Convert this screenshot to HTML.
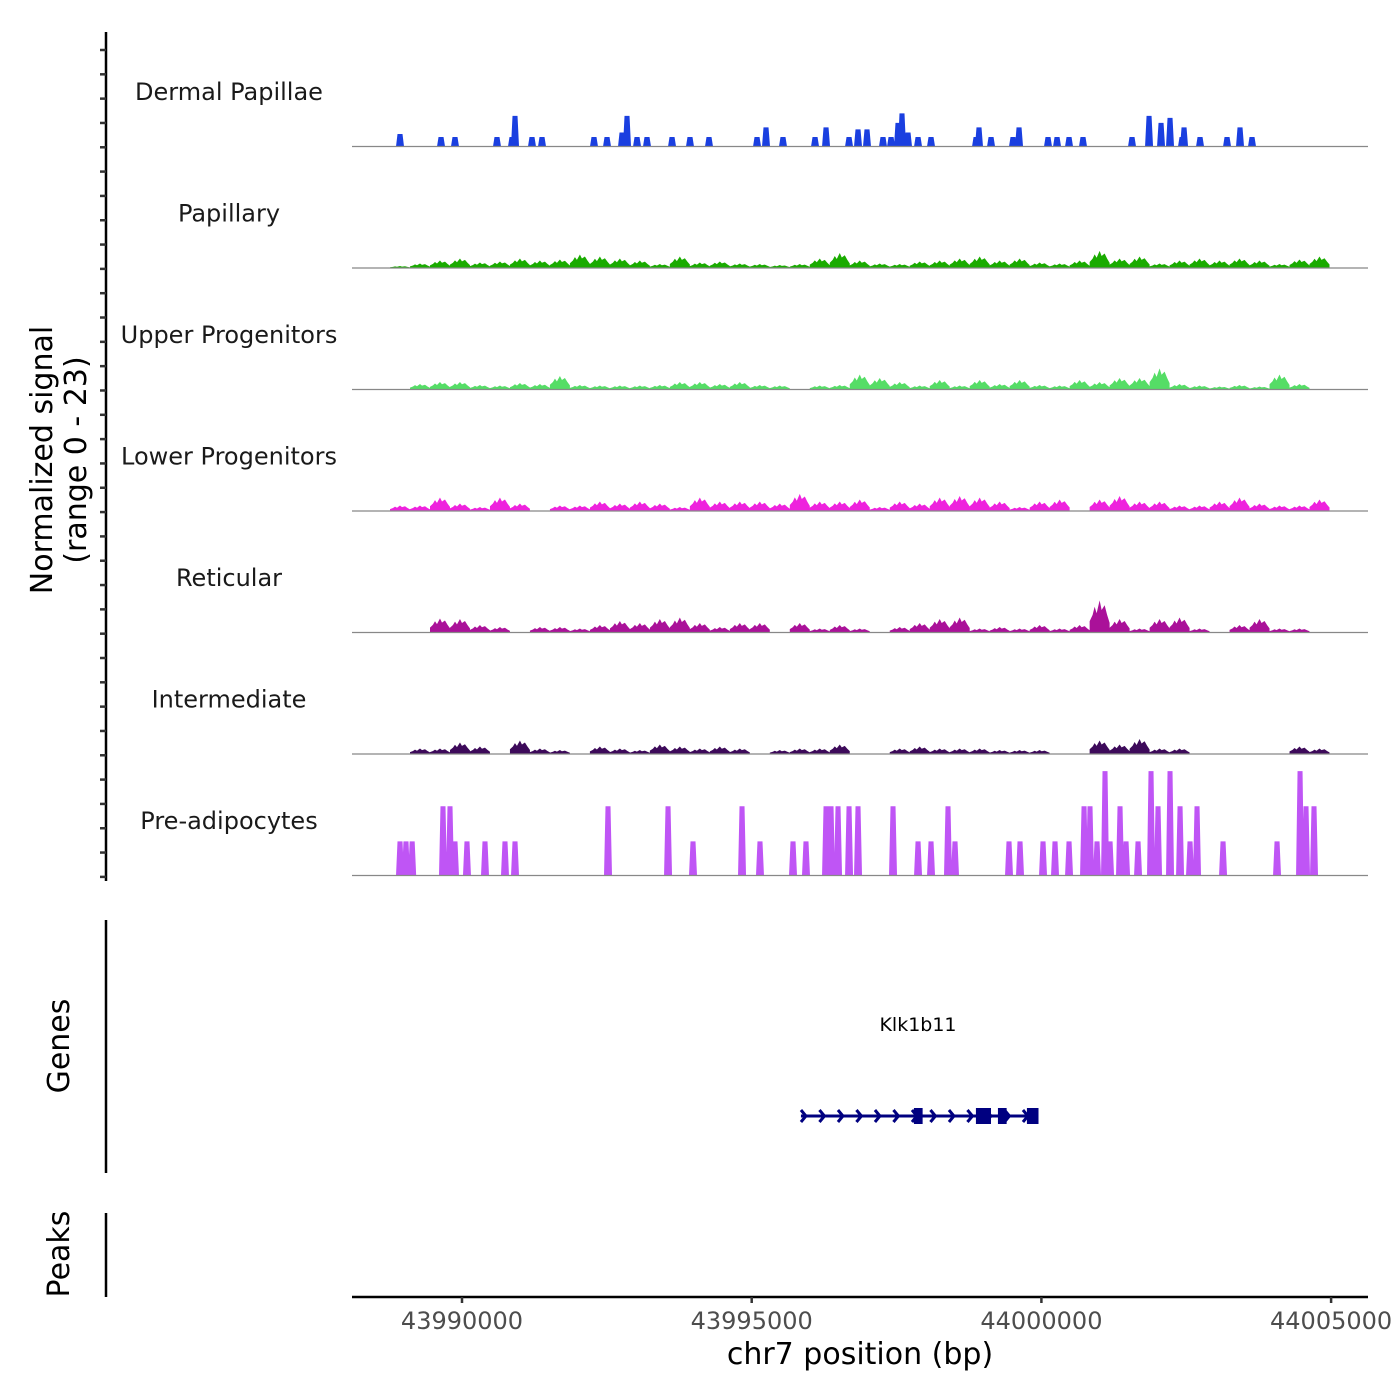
<!DOCTYPE html>
<html><head><meta charset="utf-8">
<style>
html,body{margin:0;padding:0;background:#fff;}
svg{display:block;font-family:"DejaVu Sans","Liberation Sans",sans-serif;}
</style></head>
<body>
<svg id="chart" width="1400" height="1400" viewBox="0 0 1400 1400" xmlns="http://www.w3.org/2000/svg">
<g id="leftaxis"></g>
<text transform="translate(52,460) rotate(-90)" text-anchor="middle" font-size="30" fill="#000">Normalized signal</text>
<text transform="translate(86,460) rotate(-90)" text-anchor="middle" font-size="30" fill="#000">(range 0 - 23)</text>
<g id="tracks"></g>
<line x1="106" y1="920" x2="106" y2="1173" stroke="#000" stroke-width="2.5"/>
<text transform="translate(69,1046) rotate(-90)" text-anchor="middle" font-size="30">Genes</text>
<g id="gene"></g>
<line x1="106" y1="1213" x2="106" y2="1297" stroke="#000" stroke-width="2.5"/>
<text transform="translate(69,1254) rotate(-90)" text-anchor="middle" font-size="30">Peaks</text>
<g id="xaxis"></g>
<text x="860" y="1364" text-anchor="middle" font-size="30">chr7 position (bp)</text>
</svg>
<script>
const NS="http://www.w3.org/2000/svg";
const trackNames=["Dermal Papillae","Papillary","Upper Progenitors","Lower Progenitors","Reticular","Intermediate","Pre-adipocytes"];
const trackColors=["#1a3fe0","#1aab00","#55dd66","#ee22dd","#aa1199","#3d0a5a","#bf55f5"];
const xTicks=[43990000,43995000,44000000,44005000];
const xTickLabels=["43990000","43995000","44000000","44005000"];
const binStart=43988930, binSize=345;
const papillary=[0.4,0.9,1.5,1.9,1.1,1.3,1.9,1.5,1.7,2.7,2.3,1.9,1.5,0.8,2.3,1.1,1.3,0.9,0.8,0.6,0.8,1.9,3.0,1.5,0.9,0.8,1.3,1.5,1.9,2.3,1.5,1.9,1.1,0.9,1.5,3.4,1.9,2.3,0.9,1.5,1.9,1.5,1.9,1.5,0.8,1.7,2.3];
const upperProg=[0,1.1,1.5,1.5,0.9,0.8,1.3,1.1,2.7,0.9,0.8,0.8,0.8,0.9,1.5,1.5,1.1,1.5,0.9,0.8,0,0.8,0.9,3.0,2.3,1.5,0.8,1.9,0.8,1.9,1.1,1.9,0.9,0.8,1.9,1.5,2.3,2.3,4.2,1.1,0.8,0.6,0.9,0.6,3.0,1.1,0];
const lowerProg=[1.1,1.1,2.7,1.5,0.8,2.7,1.5,0,1.1,1.1,1.9,1.5,1.9,1.5,0.8,2.7,1.9,1.9,1.9,1.5,3.4,1.9,1.9,2.3,0.8,1.9,1.5,2.7,3.0,2.7,1.9,0.8,1.9,2.3,0,2.3,3.0,1.9,1.9,1.1,1.1,1.9,2.7,1.5,1.1,1.1,2.3];
const reticular=[0,0,2.8,2.7,1.5,1.1,0,1.1,1.1,0.8,1.5,2.3,1.9,2.7,3.0,1.9,1.1,1.9,1.9,0,1.9,0.8,1.5,0.8,0,1.1,1.9,2.7,3.0,0.8,1.1,0.8,1.5,0.8,1.5,6.4,2.7,0.8,2.7,3.0,0.8,0,1.5,2.7,0.8,0.8,0];
const intermediate=[0,1.1,1.1,2.3,1.5,0,2.7,1.1,0.8,0,1.5,1.1,0.8,1.9,1.5,1.1,1.5,1.1,0,0.8,1.1,1.1,1.9,0,0,1.1,1.5,1.1,1.1,1.1,0.8,0.8,0.8,0,0,2.7,1.9,3.0,1.1,1.1,0,0,0,0,0,1.5,1.1];
const dermalPos=[-1070,-362,-121,604,863,915,1208,1381,2278,2503,2762,2848,3021,3193,3625,3935,4263,5092,5247,5540,6093,6283,6680,6835,6990,7266,7405,7525,7594,7698,7871,8095,8872,8923,9131,9510,9614,10114,10270,10477,10718,11564,11858,12065,12220,12427,12462,12738,13204,13428,13635];
const dermalVal=[2.5,1.9,1.9,1.9,1.9,6.1,1.9,1.9,1.9,1.9,2.8,6.1,1.9,1.9,1.9,1.9,1.9,1.9,3.8,1.9,1.9,3.8,1.9,3.4,3.4,1.9,1.9,4.7,6.6,2.8,1.9,1.9,1.9,3.8,1.9,1.9,3.8,1.9,1.9,1.9,1.9,1.9,6.1,4.7,5.7,1.9,3.8,1.9,1.9,3.8,1.9];
const preadPos=[-1070,-967,-860,-328,-207,-121,86,397,742,915,2520,3556,3987,4833,5143,5713,5937,6283,6369,6490,6680,6835,7439,7871,8095,8388,8509,9441,9631,10028,10235,10477,10736,10839,10960,11098,11185,11357,11461,11668,11892,12013,12220,12393,12565,12686,13135,14067,14464,14567,14705];
const preadVal=[6.8,6.8,6.8,13.8,13.8,6.8,6.8,6.8,6.8,6.8,13.8,13.8,6.8,13.8,6.8,6.8,6.8,13.8,13.8,13.8,13.8,13.8,13.8,6.8,6.8,13.8,6.8,6.8,6.8,6.8,6.8,6.8,13.8,13.8,6.8,20.8,6.8,13.8,6.8,6.8,20.8,13.8,20.8,13.8,6.8,13.8,6.8,6.8,20.8,13.8,13.8];
const geneStart=43995850, geneEnd=43999850;
const exonStarts=[43997800,43998870,43999250,43999750];
const exonEnds=[43997950,43999130,43999400,43999950];

const X0=352,X1=1368,bpRef=43990000,pxRef=462,pxPerBp=289.7/5000;
const xs=bp=>pxRef+(bp-bpRef)*pxPerBp;
const trackTop=25,trackH=121.5,maxV=23;
const ys=(i,v)=>trackTop+trackH*(i+1)-v*(trackH/maxV)*0.95;
function mk(tag,attrs,parent){const e=document.createElementNS(NS,tag);for(const k in attrs)e.setAttribute(k,attrs[k]);parent.appendChild(e);return e;}

const la=document.getElementById('leftaxis');
const ax=mk('line',{x1:106,y1:32,x2:106,y2:881,stroke:'#000','stroke-width':2.5},la);


for(let k=0;k<35;k++){const y=50+k*24.32;const t=mk('line',{x1:100,y1:y,x2:106,y2:y,stroke:'#333','stroke-width':2.5},la);

}

const tg=document.getElementById('tracks');
const binTracks={1:papillary,2:upperProg,3:lowerProg,4:reticular,5:intermediate};
for(let i=0;i<7;i++){
  const g=mk('g',{},tg);
  
  
  const base=ys(i,0);
  const lbl=mk('text',{x:229,y:trackTop+trackH*i+75,'text-anchor':'middle','font-size':24,fill:'#1a1a1a'},g);
  lbl.textContent=trackNames[i];
  
  
  let d='';
  if(binTracks[i]){
    const vals=binTracks[i];
    for(let b=0;b<vals.length;b++){
      const v=vals[b]; if(v<=0) continue;
      const c=binStart+b*binSize, xc=xs(c), hw=binSize*pxPerBp*0.5;
      const y=ys(i,v), y2=ys(i,v*0.55);
      d+=`M${xc-hw},${base}L${xc-hw},${ys(i,v*0.35)}L${xc-hw*0.7},${y2}L${xc-hw*0.5},${ys(i,v*0.8)}L${xc-hw*0.3},${ys(i,v*0.6)}L${xc},${y}L${xc+hw*0.2},${ys(i,v*0.7)}L${xc+hw*0.5},${ys(i,v*0.85)}L${xc+hw*0.75},${y2}L${xc+hw},${ys(i,v*0.3)}L${xc+hw},${base}Z`;
    }
  } else {
    const pos=i===0?dermalPos:preadPos, vals=i===0?dermalVal:preadVal;
    for(let p=0;p<pos.length;p++){
      const xc=xs(bpRef+pos[p]), y=ys(i,vals[p]);
      d+=`M${xc-4},${base}L${xc-2.5},${y}L${xc+2.5},${y}L${xc+4},${base}Z`;
    }
  }
  const path=mk('path',{d:d,fill:trackColors[i]},g);
  
  
  const bl=mk('line',{x1:X0,y1:base,x2:X1,y2:base,stroke:'#888','stroke-width':1.2},g);
  
  
}

const gg=document.getElementById('gene');
const gy=1116;
const gl=mk('text',{x:918,y:1031,'text-anchor':'middle','font-size':19},gg);gl.textContent='Klk1b11';


const gline=mk('line',{x1:xs(geneStart),y1:gy,x2:xs(geneEnd),y2:gy,stroke:'#000080','stroke-width':3},gg);


for(let a=xs(geneStart);a<xs(geneEnd)-8;a+=18.5){
  const ch=mk('path',{d:`M${a},${gy-6}L${a+5},${gy}L${a},${gy+6}`,stroke:'#000080','stroke-width':3,fill:'none'},gg);
  
  
}
for(let e=0;e<exonStarts.length;e++){
  const x1=xs(exonStarts[e]),x2=xs(exonEnds[e]);
  const r=mk('rect',{x:x1,y:gy-8,width:x2-x1,height:16,fill:'#000080'},gg);
  
  
}

const xa=document.getElementById('xaxis');
const xl=mk('line',{x1:X0,y1:1297,x2:X1,y2:1297,stroke:'#000','stroke-width':2.5},xa);


xTicks.forEach((t,k)=>{
  const x=xs(t);
  const tk=mk('line',{x1:x,y1:1297,x2:x,y2:1303,stroke:'#333','stroke-width':2.5},xa);
  
  
  const tl=mk('text',{x:x,y:1329,'text-anchor':'middle','font-size':24,fill:'#4d4d4d'},xa);
  tl.textContent=xTickLabels[k];
  
  
});
</script>
</body></html>
